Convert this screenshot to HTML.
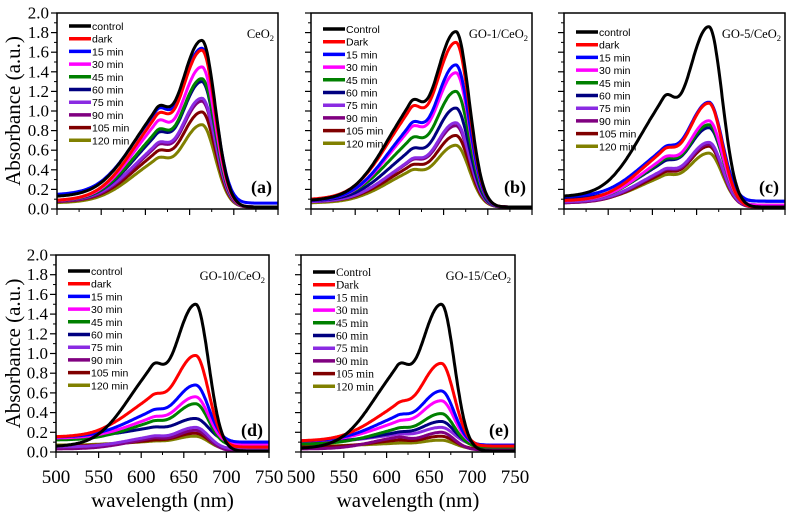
<!DOCTYPE html>
<html><head><meta charset="utf-8"><style>
body{margin:0;background:#fff;}
svg{display:block;}
.serif{font-family:"Liberation Serif",serif;}
.sans{font-family:"Liberation Sans",sans-serif;}
</style></head><body>
<svg id="chart" width="793" height="518" viewBox="0 0 793 518" xmlns="http://www.w3.org/2000/svg"></svg>
<script>
const seriesNames = ["control","dark","15 min","30 min","45 min","60 min","75 min","90 min","105 min","120 min"];
const seriesColors = ["#000000","#ff0000","#0000ff","#ff00ff","#008000","#000080","#8a2be2","#800080","#800000","#808000"];
const xTicks = [500,550,600,650,700,750];
const yTicks = [0.0,0.2,0.4,0.6,0.8,1.0,1.2,1.4,1.6,1.8,2.0];

// Panel (a) CeO2
const peakA = [1.72,1.62,1.64,1.45,1.33,1.30,1.13,1.10,0.99,0.86];
const shoulderA = [1.02,0.95,1.00,0.88,0.79,0.76,0.66,0.64,0.58,0.51];
const baseA = [0.12,0.08,0.14,0.08,0.08,0.08,0.08,0.07,0.07,0.06];
const tailA = [0.02,0.02,0.06,0.02,0.02,0.02,0.02,0.02,0.02,0.02];
// Panel (b) GO-1/CeO2
const peakB = [1.81,1.70,1.47,1.39,1.20,1.03,0.88,0.85,0.75,0.65];
const shoulderB = [1.08,1.02,0.86,0.82,0.71,0.60,0.50,0.49,0.44,0.39];
const baseB = [0.08,0.09,0.08,0.08,0.09,0.08,0.07,0.07,0.07,0.06];
const tailB = [0.02,0.02,0.02,0.02,0.02,0.02,0.02,0.02,0.02,0.02];
// Panel (c) GO-5/CeO2
const peakC = [1.86,1.08,1.09,0.90,0.86,0.83,0.68,0.66,0.64,0.57];
const shoulderC = [1.13,0.60,0.62,0.52,0.50,0.48,0.40,0.39,0.37,0.34];
const baseC = [0.12,0.08,0.12,0.08,0.08,0.10,0.07,0.06,0.06,0.07];
const tailC = [0.02,0.02,0.08,0.04,0.04,0.08,0.03,0.02,0.02,0.03];
// Panel (d) GO-10/CeO2
const peakD = [1.50,0.98,0.68,0.56,0.49,0.34,0.25,0.22,0.19,0.16];
const shoulderD = [0.87,0.57,0.42,0.35,0.31,0.25,0.16,0.14,0.12,0.11];
const baseD = [0.05,0.15,0.15,0.14,0.12,0.15,0.05,0.03,0.06,0.07];
const tailD = [0.01,0.05,0.10,0.08,0.06,0.10,0.03,0.01,0.02,0.02];
// Panel (e) GO-15/CeO2
const peakE = [1.50,0.90,0.62,0.52,0.39,0.31,0.25,0.20,0.16,0.12];
const shoulderE = [0.87,0.49,0.37,0.31,0.24,0.20,0.18,0.15,0.12,0.09];
const baseE = [0.03,0.11,0.11,0.11,0.08,0.10,0.10,0.03,0.05,0.06];
const tailE = [0.01,0.06,0.07,0.07,0.05,0.07,0.07,0.02,0.03,0.03];

const NS="http://www.w3.org/2000/svg";
const svg=document.getElementById('chart');
function mk(tag,attrs,parent){const e=document.createElementNS(NS,tag);for(const k in attrs)e.setAttribute(k,attrs[k]);(parent||svg).appendChild(e);return e;}

function mainShape(x){
  if(x<=664) return 0.75*Math.exp(-Math.pow((x-664)/24,2)/2)+0.25*Math.exp(-Math.pow((x-664)/60,2)/2);
  return Math.exp(-Math.pow((x-664)/15,2)/2);
}
function shShape(x){const s=x<612?32:12;return Math.exp(-Math.pow((x-612)/s,2)/2);}
function baseline(x,b,t){return b+(t-b)*Math.max(0,Math.min(1,(x-560)/150));}

function drawPanel(p){
  const g=mk('g',{},svg);
  
  
  const xs=v=>p.x0+(v-500)/250*(p.x1-p.x0);
  const ys=v=>p.y1-v/2*(p.y1-p.y0);
  const clipId='clip'+p.id;
  const cp=mk('clipPath',{id:clipId},g);
  mk('rect',{x:p.x0,y:p.y0,width:p.x1-p.x0,height:p.y1-p.y0},cp);
  const cg=mk('g',{'clip-path':'url(#'+clipId+')'},g);
  for(let i=seriesNames.length-1;i>=0;i--){
    const b=p.base[i],t=p.tail[i];
    const P=p.peak[i]-baseline(664,b,t), S=p.sh[i]-baseline(612,b,t);
    const m1=mainShape(664),s1=shShape(664),m2=mainShape(612),s2=shShape(612);
    const det=m1*s2-s1*m2;
    const A1=(P*s2-s1*S)/det, A2=Math.max(0,(m1*S-m2*P)/det);
    let d='';
    for(let x=500;x<=750;x+=1){
      const v=baseline(x,b,t)+A1*mainShape(x)+A2*shShape(x);
      d+=(x===500?'M':'L')+xs(x).toFixed(1)+','+ys(v).toFixed(1);
    }
    const path=mk('path',{d:d,fill:'none',stroke:seriesColors[i],'stroke-width':3,'stroke-linejoin':'round'},cg);
    
    
  }
  const frame=mk('rect',{x:p.x0,y:p.y0,width:p.x1-p.x0,height:p.y1-p.y0,fill:'none',stroke:'#000','stroke-width':1.5},g);
  
  
  yTicks.forEach((v,k)=>{
    const y=ys(v);
    mk('line',{x1:p.x0-6,x2:p.x0,y1:y,y2:y,stroke:'#000','stroke-width':1.2},g);
    if(k<yTicks.length-1) mk('line',{x1:p.x0-3,x2:p.x0,y1:ys(v+0.1),y2:ys(v+0.1),stroke:'#000','stroke-width':1},g);
    if(p.yLabels){
      const tx=mk('text',{x:p.x0-8,y:y+5.5,'text-anchor':'end','class':'serif','font-size':17},g);
      tx.textContent=v.toFixed(1);
      
      
    }
  });
  xTicks.forEach((v,k)=>{
    const x=xs(v);
    mk('line',{x1:x,x2:x,y1:p.y1,y2:p.y1+6,stroke:'#000','stroke-width':1.2},g);
    if(k<xTicks.length-1) mk('line',{x1:xs(v+25),x2:xs(v+25),y1:p.y1,y2:p.y1+3,stroke:'#000','stroke-width':1},g);
    if(p.xLabels){
      const tx=mk('text',{x:x,y:p.y1+31,'text-anchor':'middle','class':'serif','font-size':19},g);
      tx.textContent=v;
      
      
    }
  });
  if(p.xLabels){
    const t=mk('text',{x:(p.x0+p.x1)/2,y:p.y1+55,'text-anchor':'middle','class':'serif','font-size':21},g);
    t.textContent='wavelength (nm)';
    
    
  }
  if(p.yLabels){
    const cy=(p.y0+p.y1)/2;
    const t=mk('text',{x:20,y:cy,'text-anchor':'middle','class':'serif','font-size':21,transform:'rotate(-90 20 '+cy+')'},g);
    t.textContent='Absorbance (a.u.)';
    
    
  }
  const lg=mk('g',{},g);
  
  
  seriesNames.forEach((n,i)=>{
    const y=p.y0+p.legY+i*12.7;
    mk('line',{x1:p.x0+12,x2:p.x0+34,y1:y,y2:y,stroke:seriesColors[i],'stroke-width':3.5},lg);
    const tx=mk('text',{x:p.x0+35,y:y+4,'class':p.legSerif?'serif':'sans','font-size':p.legSerif?11.5:10.5},lg);
    tx.textContent=p.names?p.names[i]:n;
    
    
  });
  const ti=mk('text',{x:p.x1-4,y:p.y0+25,'text-anchor':'end','class':'serif','font-size':12.5},g);
  ti.innerHTML=p.title+'<tspan font-size="8.5" dy="3">2</tspan>';
  
  
  const lb=mk('text',{x:p.x1-6,y:p.y1-16,'text-anchor':'end','class':'serif','font-size':18,'font-weight':'bold'},g);
  lb.textContent='('+p.id+')';
  
  
}
const capNames=["Control","Dark","15 min","30 min","45 min","60 min","75 min","90 min","105 min","120 min"];
drawPanel({id:'a',x0:57,x1:278,y0:13,y1:209,peak:peakA,sh:shoulderA,base:baseA,tail:tailA,yLabels:true,xLabels:false,legY:13,title:'CeO'});
drawPanel({id:'b',x0:311,x1:532,y0:13,y1:209,peak:peakB,sh:shoulderB,base:baseB,tail:tailB,yLabels:false,xLabels:false,legY:16,title:'GO-1/CeO',names:capNames});
drawPanel({id:'c',x0:564,x1:785,y0:13,y1:209,peak:peakC,sh:shoulderC,base:baseC,tail:tailC,yLabels:false,xLabels:false,legY:19,title:'GO-5/CeO'});
drawPanel({id:'d',x0:56,x1:269,y0:255,y1:452,peak:peakD,sh:shoulderD,base:baseD,tail:tailD,yLabels:true,xLabels:true,legY:16,title:'GO-10/CeO'});
drawPanel({id:'e',x0:301,x1:515,y0:255,y1:452,peak:peakE,sh:shoulderE,base:baseE,tail:tailE,yLabels:false,xLabels:true,legY:17,title:'GO-15/CeO',names:capNames,legSerif:true});
</script>
</body></html>
